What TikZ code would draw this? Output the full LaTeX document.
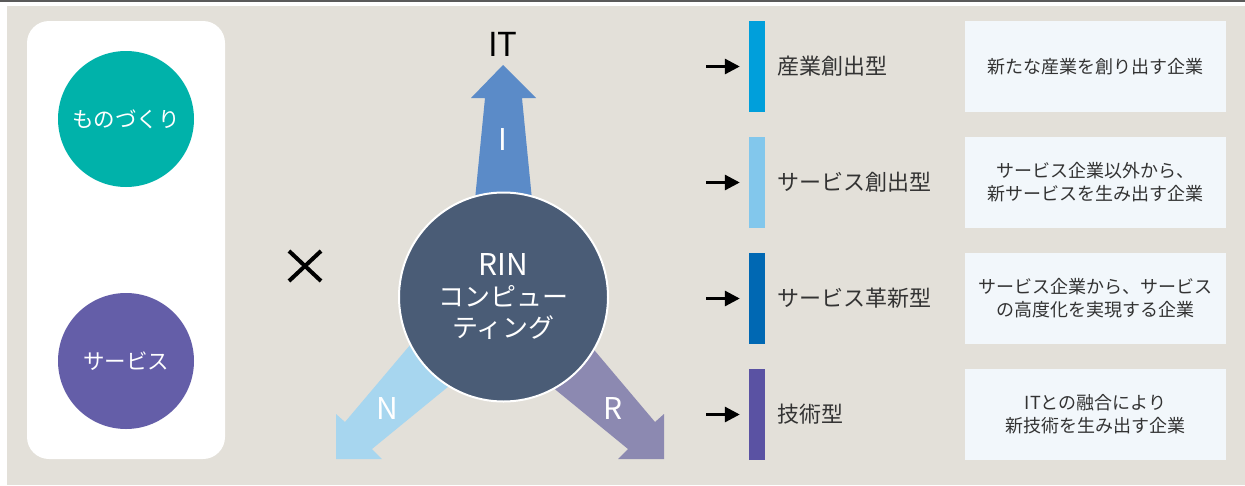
\documentclass[tikz,border=0pt]{standalone}
\usepackage{fontspec}
\setmainfont{Noto Sans CJK JP}
\usetikzlibrary{arrows.meta}
\definecolor{bgc}{HTML}{E3E0D9}
\definecolor{topl}{HTML}{5A5A5A}
\definecolor{tealc}{HTML}{00B2AA}
\definecolor{purc}{HTML}{645EA8}
\definecolor{upc}{HTML}{5B8BC8}
\definecolor{nc}{HTML}{A7D6EF}
\definecolor{rc}{HTML}{8C89B1}
\definecolor{rinc}{HTML}{4A5C76}
\definecolor{barA}{HTML}{009FDB}
\definecolor{barB}{HTML}{82C7EC}
\definecolor{barC}{HTML}{0068B3}
\definecolor{barD}{HTML}{5A52A3}
\definecolor{boxc}{HTML}{F2F7FB}
\definecolor{txtc}{HTML}{333333}
\tikzset{
  bigcirc/.style={circle,minimum size=136pt,inner sep=0pt,text=white,font=\fontsize{21.5}{24}\selectfont},
  barbox/.style={minimum width=16pt,minimum height=91pt,inner sep=0pt},
  lbl/.style={anchor=west,inner sep=0pt,text=txtc,font=\fontsize{22}{26}\selectfont},
  descbox/.style={fill=boxc,minimum width=261pt,minimum height=91pt,inner sep=0pt,align=center,text=txtc,font=\fontsize{18}{23}\selectfont},
  smallarrow/.style={line width=3pt,-{Triangle[length=15pt,width=15pt]},shorten >=9pt},
  arrlbl/.style={text=white,font=\fontsize{30}{32}\selectfont,inner sep=0pt}
}
\begin{document}
\begin{tikzpicture}[x=1pt,y=-1pt]
\useasboundingbox (0,0) rectangle (1245,485);
\fill[white] (0,0) rectangle (1245,485);
\fill[topl] (0,0) rectangle (1245,2);
\fill[bgc] (7,6) rectangle (1245,485);
\fill[white,rounded corners=22pt] (27,21) rectangle (225,459);
\node[bigcirc,fill=tealc] (mono) at (126,119) {ものづくり};
\node[bigcirc,fill=purc] (serv) at (126,361) {サービス};
% cross
\draw[line width=4pt] (289,251) -- (321,281) (289,281) -- (321,251);
% big arrows
\fill[upc] (472,230) -- (485,98) -- (471,98) -- (503,65) -- (536,98) -- (522,98) -- (535,230) -- cycle;
\fill[nc] (429.5,322) -- (345,422) -- (336,414) -- (336,459) -- (382,459) -- (372,449) -- (471,368) -- cycle;
\fill[rc] (570.5,322) -- (655,422) -- (664,414) -- (664,459) -- (618,459) -- (628,449) -- (529,368) -- cycle;
\node[circle,minimum size=209pt,inner sep=0pt,fill=rinc,draw=white,line width=2pt,align=center,text=white,font=\fontsize{26}{31}\selectfont] (rin) at (503.5,297)
  {{\fontsize{30}{31}\selectfont RIN}\\コンピュー\\ティング};
\node[text=black,font=\fontsize{33}{36}\selectfont,inner sep=0pt] (it) at (503,44) {IT};
\node[arrlbl] (li) at (503,140) {I};
\node[arrlbl] (ln) at (387,408) {N};
\node[arrlbl] (lr) at (613,408) {R};
% right side rows
\foreach \i/\y/\c/\t/\d in {
  1/66.5/barA/産業創出型/新たな産業を創り出す企業,
  2/182.5/barB/サービス創出型/{サービス企業以外から、\\新サービスを生み出す企業},
  3/298.5/barC/サービス革新型/{サービス企業から、サービス\\の高度化を実現する企業},
  4/414.5/barD/技術型/{ITとの融合により\\新技術を生み出す企業}}{
  \node[barbox,fill=\c] (bar\i) at (757,\y) {};
  \coordinate (s\i) at (706,\y);
  \draw[smallarrow] (s\i) -- (bar\i.west);
  \node[lbl] (lab\i) at (777,\y) {\t};
  \node[descbox] (box\i) at (1095.5,\y) {\d};
}
\end{tikzpicture}
\end{document}
